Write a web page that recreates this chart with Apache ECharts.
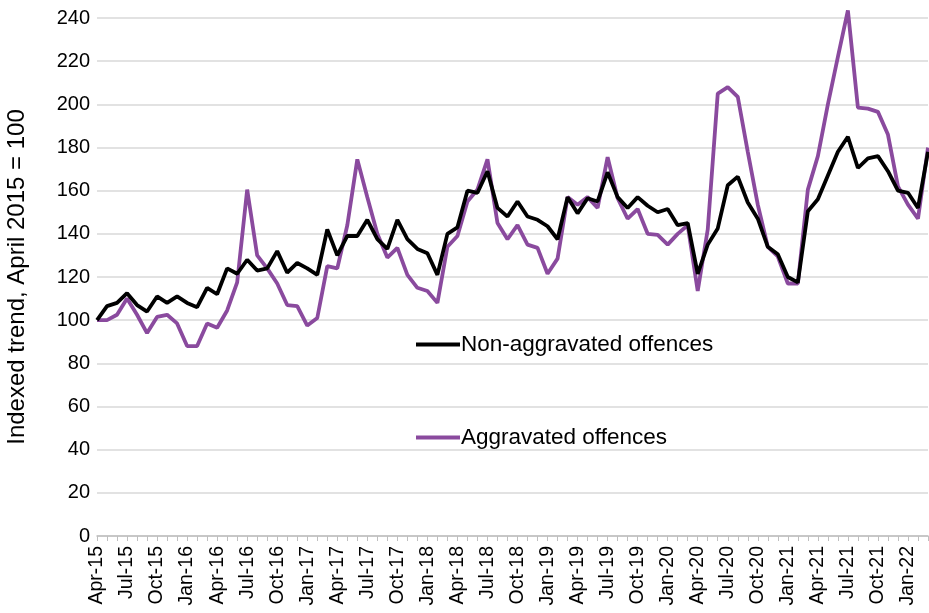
<!DOCTYPE html>
<html>
<head>
<meta charset="utf-8">
<script src="https://cdn.jsdelivr.net/npm/echarts@6/dist/echarts.min.js"></script>
<style>html,body{margin:0;padding:0;background:#fff}#c{width:929px;height:613px}</style>
</head>
<body>
<div id="c"></div>
<script>
var months = [
 "Apr-15","May-15","Jun-15","Jul-15","Aug-15","Sep-15","Oct-15","Nov-15","Dec-15","Jan-16","Feb-16","Mar-16",
 "Apr-16","May-16","Jun-16","Jul-16","Aug-16","Sep-16","Oct-16","Nov-16","Dec-16","Jan-17","Feb-17","Mar-17",
 "Apr-17","May-17","Jun-17","Jul-17","Aug-17","Sep-17","Oct-17","Nov-17","Dec-17","Jan-18","Feb-18","Mar-18",
 "Apr-18","May-18","Jun-18","Jul-18","Aug-18","Sep-18","Oct-18","Nov-18","Dec-18","Jan-19","Feb-19","Mar-19",
 "Apr-19","May-19","Jun-19","Jul-19","Aug-19","Sep-19","Oct-19","Nov-19","Dec-19","Jan-20","Feb-20","Mar-20",
 "Apr-20","May-20","Jun-20","Jul-20","Aug-20","Sep-20","Oct-20","Nov-20","Dec-20","Jan-21","Feb-21","Mar-21",
 "Apr-21","May-21","Jun-21","Jul-21","Aug-21","Sep-21","Oct-21","Nov-21","Dec-21","Jan-22","Feb-22","Mar-22"
];
var nonAggravated = [
 100,106.5,108,112.5,107,104,111,108,111,108,106,115,
 112,124,121.5,128,123,124,132,122,126.5,124,121,142,
 130,139,139,146.5,137.5,133,146.5,137.5,133,131,121,140,
 143,160,159,169,152,148,155,148,146.5,143.5,137.5,157,
 149.5,156.5,155,168.5,157,152,157,153,150,151.5,144,145,
 121.5,135,142.5,162.5,166.5,154.5,147,134,130.5,120,117.5,150.5,
 156,167,178,185,170.5,175,176,169,160,159,152,178
];
var aggravated = [
 100,100,102.5,110,102.5,94,101.5,102.5,98.5,88,88,98.5,
 96.5,104.5,117.5,160.5,130,124,117,107,106.5,97.5,101,125,
 124,144,174.5,157,140,129,133.5,121,115,113.5,108,134,
 139,155,160.5,174.5,145,137.5,144,135,133.5,121.5,128.5,157,
 153.5,157,152,175.5,156.5,147,151.5,140,139.5,135,140,144,
 113.5,142,205,208,203.5,178,153.5,134,129.5,117,117,160.5,
 176,200,222,243.5,198.5,198,196.5,186,162,153.5,147,180
];
var seriesNames = ["Non-aggravated offences","Aggravated offences"];
var yAxisTitle = "Indexed trend, April 2015 = 100";

var chart = echarts.init(document.getElementById('c'), null, {renderer:'canvas'});
var font = "'Liberation Sans', Arial, sans-serif";
chart.setOption({
  animation:false,
  backgroundColor:'#fff',
  grid:{left:97,right:1,top:18,bottom:77,containLabel:false,outerBoundsMode:'none'},
  legend:[
    {data:[seriesNames[0]],left:411,top:328,icon:'rect',itemWidth:44,itemHeight:4,itemGap:0,
     textStyle:{fontFamily:font,fontSize:22.5,color:'#000',padding:[0,0,0,-4]}},
    {data:[seriesNames[1]],left:411,top:421,icon:'rect',itemWidth:44,itemHeight:4,itemGap:0,
     textStyle:{fontFamily:font,fontSize:22.5,color:'#000',padding:[0,0,0,-4]}}
  ],
  xAxis:{
    type:'category',data:months,boundaryGap:false,
    axisLine:{lineStyle:{color:'#bfbfbf',width:1.5}},
    axisTick:{show:true,interval:0,length:5,lineStyle:{color:'#bfbfbf'}},
    axisLabel:{interval:2,rotate:90,fontFamily:font,fontSize:19.5,color:'#000',margin:10},
    splitLine:{show:false}
  },
  yAxis:{
    type:'value',min:0,max:240,interval:20,
    name:yAxisTitle,nameLocation:'middle',nameGap:68,nameRotate:90,
    nameTextStyle:{fontFamily:font,fontSize:24,color:'#000'},
    axisLine:{show:false},axisTick:{show:false},
    axisLabel:{fontFamily:font,fontSize:20,color:'#000',margin:7},
    splitLine:{lineStyle:{color:'#d9d9d9',width:1.5}}
  },
  series:[
    {name:seriesNames[0],type:'line',data:nonAggravated,showSymbol:false,symbol:'none',clip:false,
     lineStyle:{color:'#000',width:3.8},itemStyle:{color:'#000'},z:3},
    {name:seriesNames[1],type:'line',data:aggravated,showSymbol:false,symbol:'none',clip:false,
     lineStyle:{color:'#8a4a9e',width:3.8},itemStyle:{color:'#8a4a9e'},z:2}
  ]
});
</script>
</body>
</html>
